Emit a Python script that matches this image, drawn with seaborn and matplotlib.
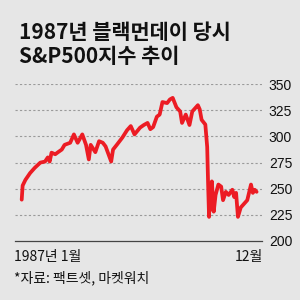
import matplotlib
matplotlib.use("Agg")
import matplotlib.pyplot as plt
import seaborn as sns
import pandas as pd

title_lines = ["1987년 블랙먼데이 당시", "S&P500지수 추이"]
x_start_label = "1987년 1월"
x_end_label = "12월"
source = "*자료: 팩트셋, 마켓워치"
yticks = [200, 225, 250, 275, 300, 325, 350]

days = [0, 1, 4, 9, 14, 20, 25, 28, 30, 32, 36, 39, 43, 46, 52, 56, 60, 65, 69, 72,
        74, 79, 83, 87, 90, 96, 98, 102, 108, 113, 117, 121, 127, 131, 135, 138, 141,
        145, 148, 151, 156, 159, 162, 166, 170, 172, 176, 180, 183, 187, 189, 191, 193,
        197, 199, 200, 201, 202, 203, 204, 206, 208, 211, 214, 216, 219, 222, 226, 228,
        230, 232, 235, 238, 242, 246, 248, 250, 252]
values = [239.5, 253, 258.5, 265, 270, 275, 276, 280, 276, 284.5, 283, 285, 287.5, 292,
          294, 302, 294, 302, 292, 278, 292, 285, 295.5, 294, 290.5, 276, 287.5, 292,
          299, 306, 310, 302, 308.5, 311, 313, 307, 309, 319, 321, 333, 332, 335.5, 337,
          328, 324, 313, 321, 311, 324, 328, 330, 326, 316, 311.5, 290, 254, 223, 249,
          230, 257, 228, 244, 254, 252, 239, 247, 244, 249, 242, 246, 223, 232, 235, 239,
          254, 246, 249, 247]

df = pd.DataFrame({"day": days, "value": values})

sns.set_theme(style="white")
plt.rcParams["font.family"] = ["Noto Sans CJK KR", "DejaVu Sans"]

bg = "#e6e6e6"
fig = plt.figure(figsize=(3, 3), dpi=100, facecolor=bg)
ax = fig.add_axes([0.05, 0.197, 0.823, 0.522])
ax.set_facecolor(bg)

sns.lineplot(data=df, x="day", y="value", ax=ax, color="#ec1c24", linewidth=2.7,
             solid_joinstyle="round", solid_capstyle="round")
for ln in ax.lines:
    ln.set_clip_on(False)

ax.set_xlim(-7.2, 257.7)
ax.set_ylim(200, 350)
ax.set_yticks(yticks)
ax.yaxis.tick_right()
ax.tick_params(axis="y", length=0, pad=5, labelsize=10)
for lbl in ax.get_yticklabels():
    lbl.set_fontfamily(["Liberation Sans", "DejaVu Sans"])
    lbl.set_color("#111111")
ax.set_xticks([])
ax.set_xlabel("")
ax.set_ylabel("")
for s in ["top", "left", "right"]:
    ax.spines[s].set_visible(False)
ax.spines["bottom"].set_color("#444444")
ax.spines["bottom"].set_linewidth(0.9)
for yv in yticks[1:]:
    ax.axhline(yv, color="#9a9a9a", linewidth=0.8, linestyle=(0, (2, 2)), zorder=0)

fig.text(0.063, 0.893, title_lines[0], fontsize=15, fontweight="bold", color="#111111",
         va="center", ha="left")
fig.text(0.063, 0.81, title_lines[1], fontsize=15, fontweight="bold", color="#111111",
         va="center", ha="left")
fig.text(0.048, 0.143, x_start_label, fontsize=10, color="#111111", va="center", ha="left")
fig.text(0.875, 0.143, x_end_label, fontsize=10, color="#111111", va="center", ha="right")
fig.text(0.048, 0.075, source, fontsize=10, color="#111111", va="center", ha="left")

fig.savefig("out.png", dpi=100, facecolor=bg)
